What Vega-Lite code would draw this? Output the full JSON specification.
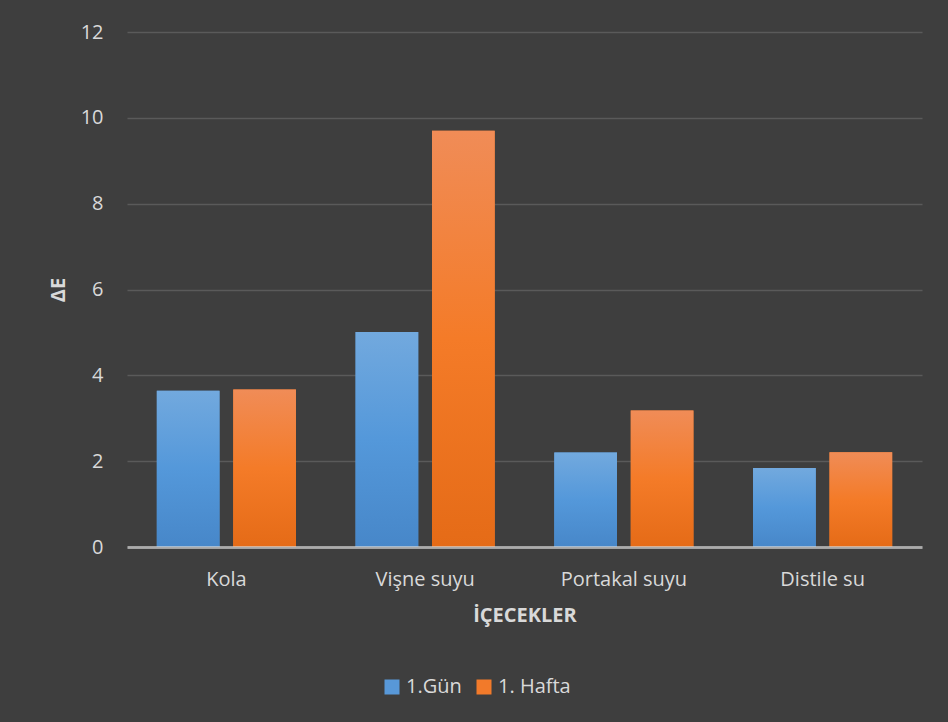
{
  "$schema": "https://vega.github.io/schema/vega-lite/v6.json",
  "width": 795,
  "height": 515,
  "autosize": {"type": "none"},
  "padding": {"left": 127, "top": 32, "right": 26, "bottom": 175},
  "background": "#3e3e3e",
  "config": {
    "font": "Open Sans",
    "view": {"stroke": null},
    "axis": {"labelColor": "#d9d9d9", "titleColor": "#d9d9d9", "labelFontSize": 20, "titleFontSize": 20, "titleFontWeight": "bold", "ticks": false, "tickSize": 0}
  },
  "data": {
    "values": [
      {"icecek": "Kola", "seri": "1.Gün", "deltaE": 3.64},
      {"icecek": "Kola", "seri": "1. Hafta", "deltaE": 3.67},
      {"icecek": "Vişne suyu", "seri": "1.Gün", "deltaE": 5.01},
      {"icecek": "Vişne suyu", "seri": "1. Hafta", "deltaE": 9.7},
      {"icecek": "Portakal suyu", "seri": "1.Gün", "deltaE": 2.2},
      {"icecek": "Portakal suyu", "seri": "1. Hafta", "deltaE": 3.18},
      {"icecek": "Distile su", "seri": "1.Gün", "deltaE": 1.84},
      {"icecek": "Distile su", "seri": "1. Hafta", "deltaE": 2.21}
    ]
  },
  "encoding": {
    "x": {
      "field": "icecek",
      "type": "nominal",
      "sort": ["Kola", "Vişne suyu", "Portakal suyu", "Distile su"],
      "scale": {"paddingInner": 0.3, "paddingOuter": 0.15},
      "axis": {
        "title": "İÇECEKLER",
        "labelAngle": 0,
        "labelPadding": 22,
        "titlePadding": 16,
        "domainColor": "rgba(215,215,215,0.65)",
        "domainWidth": 3,
        "zindex": 1
      }
    },
    "xOffset": {
      "field": "seri",
      "type": "nominal",
      "sort": ["1.Gün", "1. Hafta"],
      "scale": {"domain": ["1.Gün", "1. Hafta"], "paddingInner": 0.18, "paddingOuter": 0}
    },
    "y": {
      "field": "deltaE",
      "type": "quantitative",
      "scale": {"domain": [0, 12], "nice": false},
      "axis": {
        "title": "ΔE",
        "values": [0, 2, 4, 6, 8, 10, 12],
        "labelPadding": 24,
        "titlePadding": 12,
        "domain": false,
        "gridColor": "#5a5a5a",
        "gridWidth": 1.5
      }
    }
  },
  "layer": [
    {
      "mark": {"type": "bar"},
      "encoding": {
        "color": {
          "field": "seri",
          "type": "nominal",
          "sort": ["1.Gün", "1. Hafta"],
          "scale": {"domain": ["1.Gün", "1. Hafta"], "range": ["#5898d8", "#f27a2a"]},
          "legend": {
            "title": null,
            "orient": "none",
            "direction": "horizontal",
            "legendX": 255,
            "legendY": 645,
            "symbolType": "square",
            "symbolSize": 225,
            "symbolStrokeWidth": 0,
            "symbolOpacity": 1,
            "labelFontSize": 20,
            "labelColor": "#d9d9d9",
            "labelOffset": 4,
            "columnPadding": 12
          }
        }
      }
    },
    {
      "transform": [{"filter": "datum.seri === '1.Gün'"}],
      "mark": {
        "type": "bar",
        "color": {"gradient": "linear", "x1": 0, "y1": 0, "x2": 0, "y2": 1, "stops": [{"offset": 0, "color": "#72a9de"}, {"offset": 0.5, "color": "#5498da"}, {"offset": 1, "color": "#4787c9"}]}
      }
    },
    {
      "transform": [{"filter": "datum.seri === '1. Hafta'"}],
      "mark": {
        "type": "bar",
        "color": {"gradient": "linear", "x1": 0, "y1": 0, "x2": 0, "y2": 1, "stops": [{"offset": 0, "color": "#f08c57"}, {"offset": 0.5, "color": "#f47b28"}, {"offset": 1, "color": "#e56b17"}]}
      }
    }
  ]
}
